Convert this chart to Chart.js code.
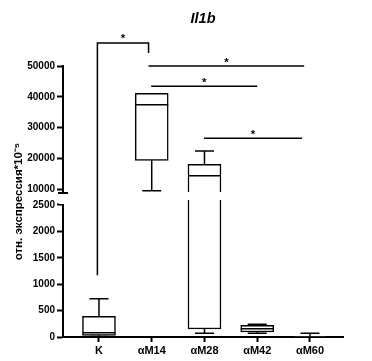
<!DOCTYPE html>
<html>
<head>
<meta charset="utf-8">
<script src="https://cdn.jsdelivr.net/npm/chart.js@4/dist/chart.umd.min.js"></script>
<style>
  html, body { margin: 0; padding: 0; background: #fff; }
</style>
</head>
<body>
<canvas id="chart" width="372" height="361"></canvas>
<script>
// Il1b, box-and-whisker per group
const groups = ['K', 'αM14', 'αM28', 'αM42', 'αM60'];
const whiskerMin = [10, 9550, 70, 70, 0];
const quartile1 = [32, 19400, 152, 95, 0];
const medians = [81, 37440, 14410, 157, 2];
const quartile3 = [392, 41140, 18110, 222, 5];
const whiskerMax = [725, 41140, 22420, 240, 70];

// y axis ticks on both sides of the break
const yTicks = [0, 500, 1000, 1500, 2000, 2500, 10000, 20000, 30000, 40000, 50000];
const lowerTop = 2500;
const upperBottom = 8800;
const yTop = 50000;

// significance lines (x in group units, y in data units)
const sigFrom = [-0.03, 0.94, 0.99, 1.99];
const sigTo = [0.94, 3.89, 3.0, 3.85];
const sigValue = [57500, 50000, 43400, 26600];
const sigLegLeft = [1170, null, null, null];
const sigLegRight = [54200, null, null, null];

const FONT = '"Liberation Sans", Arial, sans-serif';

// linear scale with a break between lowerTop and upperBottom
class BrokenScale extends Chart.LinearScale {
    static id = 'broken';

    fractions() {
        return { low: 0.4871, gap: 0.0443 };
    }

    getPixelForValue(value) {
        if (value === null || value === undefined) return NaN;
        const { low, gap } = this.fractions();
        const up = 1 - low - gap;
        let f;
        if (value <= lowerTop) {
            f = value / lowerTop * low;
        } else if (value < upperBottom) {
            f = low + (value - lowerTop) / (upperBottom - lowerTop) * gap;
        } else {
            f = low + gap + (value - upperBottom) / (this.max - upperBottom) * up;
        }
        return this.bottom - f * (this.bottom - this.top);
    }

    getValueForPixel(pixel) {
        const { low, gap } = this.fractions();
        const up = 1 - low - gap;
        const f = (this.bottom - pixel) / (this.bottom - this.top);
        if (f <= low) return f / low * lowerTop;
        if (f < low + gap) return lowerTop + (f - low) / gap * (upperBottom - lowerTop);
        return upperBottom + (f - low - gap) / up * (this.max - upperBottom);
    }
}
Chart.register(BrokenScale);

const boxPlugin = {
    id: 'boxWhiskers',
    afterDatasetsDraw: (chart) => {
        const { ctx } = chart;
        const x = chart.scales.x;
        const y = chart.scales.y;
        ctx.save();
        ctx.strokeStyle = '#000';
        ctx.lineWidth = 1.5;
        groups.forEach((g, i) => {
            const cx = x.getPixelForValue(i);
            const half = 16.5;
            const cap = 9.5;
            ctx.beginPath();
            const ym = y.getPixelForValue(medians[i]);
            ctx.moveTo(cx - half, ym);
            ctx.lineTo(cx + half, ym);
            if (whiskerMax[i] > quartile3[i]) {
                const y1 = y.getPixelForValue(quartile3[i]);
                const y2 = y.getPixelForValue(whiskerMax[i]);
                ctx.moveTo(cx, y1);
                ctx.lineTo(cx, y2);
                ctx.moveTo(cx - cap, y2);
                ctx.lineTo(cx + cap, y2);
            }
            if (whiskerMin[i] < quartile1[i]) {
                const y1 = y.getPixelForValue(quartile1[i]);
                const y2 = y.getPixelForValue(whiskerMin[i]);
                ctx.moveTo(cx, y1);
                ctx.lineTo(cx, y2);
                ctx.moveTo(cx - cap, y2);
                ctx.lineTo(cx + cap, y2);
            }
            ctx.stroke();
        });
        ctx.restore();
    }
};

const decorPlugin = {
    id: 'decor',
    afterDraw: (chart) => {
        const { ctx, chartArea } = chart;
        const x = chart.scales.x;
        const y = chart.scales.y;
        const yBreak = y.getPixelForValue(upperBottom);
        const yLow = y.getPixelForValue(lowerTop);
        ctx.save();

        // white out the break
        ctx.fillStyle = '#fff';
        ctx.fillRect(y.right - 4, yBreak + 1, 8, yLow - yBreak - 2);
        ctx.fillRect(chartArea.left + 2, yBreak - 1, chartArea.width, 8);

        ctx.strokeStyle = '#000';
        ctx.lineWidth = 2;
        ctx.beginPath();
        ctx.moveTo(y.right - 5, yBreak);
        ctx.lineTo(y.right + 5, yBreak);
        ctx.stroke();

        // significance lines and stars
        ctx.lineWidth = 1.5;
        ctx.fillStyle = '#000';
        ctx.font = 'bold 11.5px ' + FONT;
        ctx.textAlign = 'center';
        ctx.textBaseline = 'alphabetic';
        sigValue.forEach((v, i) => {
            const x1 = x.getPixelForValue(sigFrom[i]);
            const x2 = x.getPixelForValue(sigTo[i]);
            const yy = y.getPixelForValue(v);
            ctx.beginPath();
            if (sigLegLeft[i] !== null) {
                ctx.moveTo(x1, y.getPixelForValue(sigLegLeft[i]));
                ctx.lineTo(x1, yy);
                ctx.lineTo(x2, yy);
                ctx.lineTo(x2, y.getPixelForValue(sigLegRight[i]));
            } else {
                ctx.moveTo(x1, yy);
                ctx.lineTo(x2, yy);
            }
            ctx.stroke();
            ctx.fillText('*', (x1 + x2) / 2, yy - 0.5);
        });

        // title
        ctx.font = 'bold italic 14.5px ' + FONT;
        ctx.fillText('Il1b', (chartArea.left + chartArea.right) / 2, 23);
        ctx.restore();
    }
};

const axisFont = { family: FONT, weight: 'bold', size: 10 };

new Chart(document.getElementById('chart'), {
    type: 'bar',
    data: {
        datasets: [{
            data: groups.map((g, i) => ({ x: i, y: [quartile1[i], quartile3[i]] })),
            backgroundColor: '#fff',
            borderColor: '#000',
            borderWidth: 1.5,
            borderSkipped: false,
            barThickness: 33
        }]
    },
    options: {
        responsive: false,
        animation: false,
        devicePixelRatio: 1,
        layout: {
            padding: { top: 66, right: 29, bottom: 0, left: 0 }
        },
        plugins: {
            legend: { display: false },
            tooltip: { enabled: false }
        },
        scales: {
            x: {
                type: 'linear',
                offset: false,
                min: -0.682,
                max: 4.626,
                afterBuildTicks: (s) => { s.ticks = groups.map((g, i) => ({ value: i })); },
                afterFit: (s) => { s.height = 24; },
                ticks: {
                    callback: (v) => groups[v],
                    color: '#000',
                    font: { family: FONT, weight: 'bold', size: 11 },
                    padding: 2,
                    autoSkip: false,
                    maxRotation: 0
                },
                grid: {
                    offset: false,
                    drawOnChartArea: false,
                    drawTicks: true,
                    tickLength: 5,
                    tickColor: '#000',
                    tickWidth: 2
                },
                border: { color: '#000', width: 2 }
            },
            y: {
                type: 'broken',
                min: 0,
                max: yTop,
                afterBuildTicks: (s) => { s.ticks = yTicks.map(v => ({ value: v })); },
                afterFit: (s) => { s.width = 63; },
                ticks: {
                    callback: (v) => String(v),
                    color: '#000',
                    font: axisFont,
                    padding: 2,
                    autoSkip: false
                },
                grid: {
                    drawOnChartArea: false,
                    drawTicks: true,
                    tickLength: 6,
                    tickColor: '#000',
                    tickWidth: 2
                },
                border: { color: '#000', width: 2 },
                title: {
                    display: true,
                    text: 'отн. экспрессия*10⁻⁵',
                    color: '#000',
                    font: { family: FONT, weight: 'bold', size: 11.5 },
                    padding: { top: 12, bottom: 0 }
                }
            }
        }
    },
    plugins: [boxPlugin, decorPlugin]
});
</script>
</body>
</html>
